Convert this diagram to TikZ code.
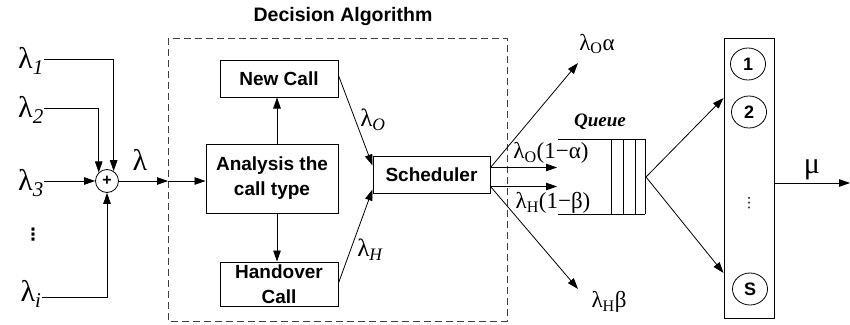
\documentclass[tikz,border=0pt]{standalone}
\usepackage{fontspec}
\setmainfont{Liberation Serif}
\newfontfamily\hv{Liberation Sans}
\newfontfamily\dv{DejaVu Sans}
\usetikzlibrary{arrows.meta,calc,shapes.geometric}

\begin{document}
\begin{tikzpicture}[x=1pt,y=-1pt,
  line width=0.8pt,
  >={Triangle[length=11pt,width=7.5pt]},
  blk/.style={draw, line width=1pt, font=\hv\fontsize{19}{25}\selectfont\bfseries,
    align=center, inner sep=0pt},
  lam/.style={font=\fontsize{30}{32}\selectfont, inner sep=0pt},
  lab/.style={font=\fontsize{23}{25}\selectfont, inner sep=0pt},
  srv/.style={draw, ellipse, line width=0.8pt, minimum width=35pt, minimum height=32pt,
    inner sep=0pt, font=\hv\fontsize{18}{18}\selectfont\bfseries},
  vdot/.style={font=\dv\bfseries\fontsize{17}{18}\selectfont, inner sep=0pt},
  qline/.style={line width=0.8pt}]
\useasboundingbox (0,0) rectangle (850,324);

% title and dashed frame of the decision stage
\node[font=\hv\fontsize{19.5}{21}\selectfont\bfseries] (title) at (343,17) {Decision Algorithm};
\draw[black!75, line width=1pt, dash pattern=on 7pt off 4pt] (168,38) rectangle (507,321);

% input streams
\node[lam] (l1) at (31,61) {λ\textsubscript{\itshape 1}};
\node[lam] (l2) at (31,110) {λ\textsubscript{\itshape 2}};
\node[lam] (l3) at (31,183) {λ\textsubscript{\itshape 3}};
\node[vdot] (ldots) at (33,235) {⋮};
\node[lam] (li) at (31,294) {λ\textsubscript{\itshape i}};

% summing junction
\node[draw, circle, minimum size=23pt, inner sep=0pt, font=\hv\bfseries\fontsize{16}{16}\selectfont] (sum) at (107,181) {+};

\draw[->] ([yshift=2pt]l1.east) -| (sum.56);
\draw[->] ([yshift=2pt]l2.east) -| (sum.134);
\draw[->] (l3.east |- sum.west) -- (sum.west);
\draw[->] (li.east |- 0,297) -| (sum.south);

\coordinate (din) at (168,181);
\draw[->] (sum.east) -- (din);
\node[lam] (lam) at (140,160) {λ};

% decision blocks
\node[blk, minimum width=118pt, minimum height=37pt] (new) at (279,78.5) {New Call};
\node[blk, minimum width=132pt, minimum height=69pt] (ana) at (272,178.5) {Analysis the\\call type};
\node[blk, minimum width=118pt, minimum height=44pt] (hand) at (279,284) {Handover\\Call};
\node[blk, minimum width=117pt, minimum height=37pt] (sch) at (431.5,174.5) {Scheduler};

\draw[->] (din) -- (din -| ana.west);
\draw[->] (ana.north -| 277,0) -- (new.south -| 277,0);
\draw[->] (ana.south -| 277,0) -- (hand.north -| 277,0);
\draw[->] ([yshift=3pt]new.east) -- ([yshift=9pt]sch.west);
\draw[->] ([yshift=1pt]hand.east) -- ([yshift=-15pt]sch.west);
\node[lab, font=\fontsize{25}{27}\selectfont] (lo) at (373,120) {λ\textsubscript{\itshape O}};
\node[lab, font=\fontsize{25}{27}\selectfont] (lh) at (370,250) {λ\textsubscript{\itshape H}};

% scheduler outputs
\coordinate (oa) at (578,63);
\coordinate (hb) at (578,289);
\coordinate (s1) at ([yshift=7pt]sch.east);
\coordinate (s2) at ([yshift=-12pt]sch.east);
\draw[->] (s1) -- (oa);
\draw[->] (s2) -- (hb);
\draw[->] (s1) -- (557,167.5);
\draw[->] (s2) -- (557,186.5);

\node[lab] (loa) at (597,44) {λ\textsubscript{O}α};
\node[lab] (lo1) at (551,153) {λ\textsubscript{O}(1−α)};
\node[lab] (lh1) at (553,203) {λ\textsubscript{H}(1−β)};
\node[lab] (lhb) at (609,302) {λ\textsubscript{H}β};

% queue
\draw[qline] (558,139) -- (645,139);
\draw[qline] (558,214) -- (645,214);
\foreach \qx in {611,623,635,645} \draw[qline] (\qx,139) -- (\qx,214);
\node[font=\fontsize{19}{20}\selectfont\bfseries\itshape, inner sep=0pt] (queue) at (600,122) {Queue};
\coordinate (qout) at (646,177);

% server bank
\node[draw, line width=1pt, minimum width=50pt, minimum height=280pt, inner sep=0pt] (bank) at (749,178) {};
\node[srv] (c1) at (748,64) {1};
\node[srv] (c2) at (749,112) {2};
\node[srv] (cs) at (750,289) {S};
\node[font=\dv\fontsize{14}{15}\selectfont, inner sep=0pt] (vd) at (749,203) {⋮};

\draw[->] (qout) -- (bank.west |- 0,98);
\draw[->] (qout) -- (bank.west |- 0,273);

\coordinate (mu) at (850,183);
\draw[->] (bank.east |- mu) -- (mu);
\node[font=\fontsize{30}{32}\selectfont, inner sep=0pt] (mulab) at (812,170) {μ};
\end{tikzpicture}
\end{document}
